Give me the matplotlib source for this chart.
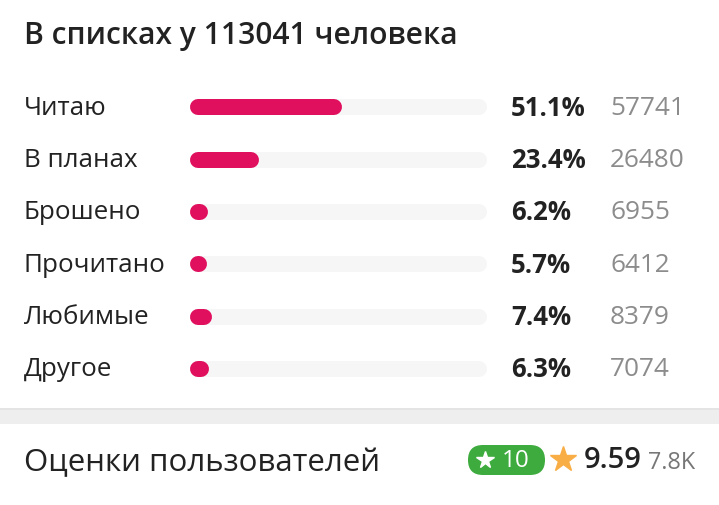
import matplotlib
matplotlib.use('Agg')
import matplotlib.pyplot as plt
from matplotlib.patches import FancyBboxPatch, Rectangle
from matplotlib.transforms import blended_transform_factory

# data
categories = ['Читаю', 'В планах', 'Брошено', 'Прочитано', 'Любимые', 'Другое']
percents = [51.1, 23.4, 6.2, 5.7, 7.4, 6.3]
counts = [57741, 26480, 6955, 6412, 8379, 7074]
total = 113041
top_score = 10
rating = 9.59
votes = '7.8K'

plt.rcParams['font.family'] = ['Open Sans', 'DejaVu Sans']

W, H = 719, 506
fig = plt.figure(figsize=(W / 100, H / 100), dpi=100)

# background axes in pixel coordinates
bg = fig.add_axes([0, 0, 1, 1])
bg.set_xlim(0, W)
bg.set_ylim(H, 0)
bg.axis('off')

# bar axes: 0..100 % across the track
ax = fig.add_axes([190 / W, (H - 396) / H, 297 / W, 314 / H])
ax.set_xlim(0, 100)
ax.set_ylim(len(categories) - 0.5, -0.5)
ax.axis('off')

bar_px = 16
lw = bar_px * 72 / 100
cap = (bar_px / 2) / 2.97  # half bar height in % units

trans = blended_transform_factory(bg.transData, ax.transData)

for i, (cat, p, c) in enumerate(zip(categories, percents, counts)):
    ax.plot([cap, 100 - cap], [i, i], lw=lw, color='#f6f6f6',
            solid_capstyle='round', zorder=1)
    ax.plot([cap, max(p - cap, cap + 0.05)], [i, i], lw=lw, color='#e0105f',
            solid_capstyle='round', zorder=2)
    ax.text(24, i, cat, transform=trans, va='center', ha='left',
            fontsize=18.7, color='#222222')
    ax.text(511, i, f'{p}%', transform=trans, va='center', ha='left',
            fontsize=18.5, fontweight='bold', color='#222222')
    ax.text(610, i, str(c), transform=trans, va='center', ha='left',
            fontsize=18.8, color='#8c8c8c')

bg.text(24, 36, f'В списках у {total} человека', fontsize=21.6,
        fontweight='semibold', color='#222222', va='center', ha='left')

# separator band
bg.add_patch(Rectangle((0, 410), W, 15, color='#eeeeee', lw=0))
bg.add_patch(Rectangle((0, 409), W, 2, color='#e4e4e4', lw=0))

# user ratings row
bg.text(24, 463, 'Оценки пользователей', fontsize=22.5, color='#222222',
        va='center', ha='left')

bg.add_patch(FancyBboxPatch((468, 446), 77, 30,
                            boxstyle='round,pad=0,rounding_size=15',
                            fc='#3dab3d', ec='none'))
bg.plot(485, 461, marker='*', ms=13, color='white', mec='white')
bg.text(502, 461, str(top_score), fontsize=17.5, color='white',
        va='center', ha='left')

bg.plot(563, 460, marker='*', ms=19, color='#f8ae45', mec='#f8ae45')
bg.text(584, 461, f'{rating}', fontsize=21, fontweight='semibold',
        color='#222222', va='center', ha='left')
bg.text(648, 463, votes, fontsize=16.8, color='#777777', va='center', ha='left')

fig.savefig('out.png', dpi=100, facecolor='white')
